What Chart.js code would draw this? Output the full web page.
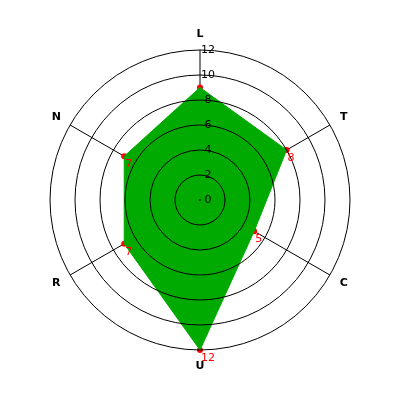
<!DOCTYPE html>
<html>
<head>
<meta charset="utf-8">
<script src="https://cdn.jsdelivr.net/npm/chart.js@4"></script>
<style>
  html, body { margin: 0; padding: 0; background: #fff; }
  #wrap { width: 400px; height: 400px; }
</style>
</head>
<body>
<div id="wrap"><canvas id="radar" width="400" height="400"></canvas></div>
<script>
// --- DATA ---
var kategori = ['L', 'T', 'C', 'U', 'R', 'N'];
var nilai = [9, 8, 5, 12, 7, 7];
var labelNilai = ['', '8', '5', '12', '7', '7'];
var tickLabels = [0, 2, 4, 6, 8, 10, 12];

// --- PLUGIN: circles over the fill, ticks, labels ---
var pluginRadar = {
    id: 'pluginRadar',
    afterDatasetDraw: function(chart, args) {
        if (args.index !== 0) return;
        var sc = chart.scales.r;
        var ctx = chart.ctx;
        ctx.save();
        ctx.strokeStyle = '#000';
        ctx.lineWidth = 1;
        tickLabels.forEach(function(t) {
            var r = sc.getDistanceFromCenterForValue(t);
            ctx.beginPath();
            ctx.arc(sc.xCenter, sc.yCenter, Math.max(r, 0.5), 0, Math.PI * 2);
            ctx.stroke();
        });
        ctx.restore();
    },
    afterDatasetsDraw: function(chart) {
        var sc = chart.scales.r;
        var ctx = chart.ctx;
        ctx.save();
        // tick labels
        ctx.fillStyle = '#000';
        ctx.font = '11px "DejaVu Sans", sans-serif';
        ctx.textAlign = 'center';
        ctx.textBaseline = 'middle';
        tickLabels.forEach(function(t) {
            var r = sc.getDistanceFromCenterForValue(t);
            ctx.fillText(String(t), sc.xCenter + 8, sc.yCenter - r);
        });
        // category labels
        ctx.font = 'bold 11px "DejaVu Sans", sans-serif';
        kategori.forEach(function(k, i) {
            var p = sc.getPointPosition(i, 0);
            var sudut = sc.getIndexAngle(i) - Math.PI / 2;
            var rr = sc.drawingArea + 16;
            ctx.fillText(k, sc.xCenter + Math.cos(sudut) * rr, sc.yCenter + Math.sin(sudut) * rr);
        });
        // value labels
        ctx.fillStyle = '#f00';
        ctx.font = '11px "DejaVu Sans", sans-serif';
        ctx.textAlign = 'left';
        var meta = chart.getDatasetMeta(1);
        meta.data.forEach(function(pt, i) {
            if (!labelNilai[i]) return;
            ctx.fillText(labelNilai[i], pt.x + 1, pt.y + 8);
        });
        ctx.restore();
    }
};

var ctx = document.getElementById('radar').getContext('2d');
var chartRadar = new Chart(ctx, {
    type: 'radar',
    data: {
        labels: kategori,
        datasets: [{
            data: nilai,
            backgroundColor: '#00aa00',
            borderColor: '#00aa00',
            borderWidth: 1,
            fill: true,
            pointRadius: 0,
            pointHoverRadius: 0
        }, {
            data: nilai,
            showLine: false,
            fill: false,
            borderColor: '#f00',
            backgroundColor: '#f00',
            pointRadius: 3,
            pointBorderWidth: 0
        }]
    },
    options: {
        responsive: false,
        animation: false,
        layout: { padding: 50 },
        plugins: {
            legend: { display: false },
            tooltip: { enabled: false }
        },
        scales: {
            r: {
                min: 0,
                max: 12,
                ticks: { display: false, stepSize: 2 },
                grid: { display: false },
                angleLines: { display: true, color: '#000', lineWidth: 1 },
                pointLabels: { display: false }
            }
        }
    },
    plugins: [pluginRadar]
});
</script>
</body>
</html>
